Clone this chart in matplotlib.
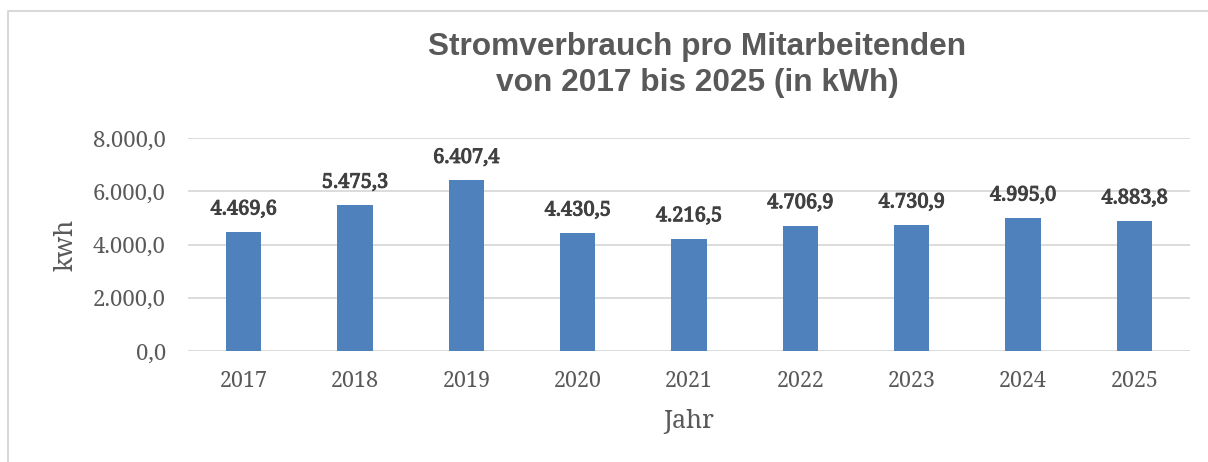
import matplotlib.pyplot as plt
import matplotlib.patheffects as pe
from matplotlib.lines import Line2D

years = ['2017', '2018', '2019', '2020', '2021', '2022', '2023', '2024', '2025']
kwh = [4469.6, 5475.3, 6407.4, 4430.5, 4216.5, 4706.9, 4730.9, 4995.0, 4883.8]
yticks = [0, 2000, 4000, 6000, 8000]


def de_fmt(v):
    # German number format: 4.469,6
    s = f'{v:,.1f}'
    return s.replace(',', 'X').replace('.', ',').replace('X', '.')


grey = '#595959'
serif = 'Noto Serif'

fig = plt.figure(figsize=(12.08, 4.62), dpi=100)
ax = fig.add_axes([188 / 1208, 1 - 351 / 462, (1190 - 188) / 1208, (351 - 138) / 462])

x = range(len(years))
ax.bar(x, kwh, width=0.315, color='#4F81BD', zorder=3)
# only the regular weight is installed, so thicken the labels with a stroke
bold = [pe.withStroke(linewidth=0.7, foreground='#404040')]
for i, v in zip(x, kwh):
    ax.annotate(de_fmt(v), (i, v), xytext=(0, 9), textcoords='offset points',
                ha='center', va='bottom', fontsize=14.5, family=serif,
                color='#404040', path_effects=bold)

ax.set_xlim(-0.5, len(years) - 0.5)
ax.set_ylim(0, 8000)
ax.set_yticks(yticks)
ax.set_yticklabels([de_fmt(v) for v in yticks], family=serif, fontsize=16, color=grey)
ax.set_xticks(list(x))
ax.set_xticklabels(years, family=serif, fontsize=15.5, color=grey)
ax.tick_params(length=0, pad=14)
ax.tick_params(axis='y', pad=16)
ax.grid(axis='y', color='#D9D9D9', linewidth=1.3, zorder=0)
for s in ax.spines.values():
    s.set_visible(False)

ax.set_ylabel('kwh', family=serif, fontsize=18, color=grey, labelpad=10)
ax.set_xlabel('Jahr', family=serif, fontsize=18, color=grey, labelpad=12)

fig.text(697 / 1208, 1 - 65 / 462, 'Stromverbrauch pro Mitarbeitenden\nvon 2017 bis 2025 (in kWh)',
         ha='center', va='center', fontsize=22.8, fontweight='bold', color=grey,
         family='Liberation Sans', linespacing=1.22)

# chart area border (top and left)
fig.add_artist(Line2D([8 / 1208, 8 / 1208, 1], [0, 1 - 11 / 462, 1 - 11 / 462],
                      transform=fig.transFigure, color='#D9D9D9', linewidth=1.5))

fig.savefig('out.png', dpi=100)
